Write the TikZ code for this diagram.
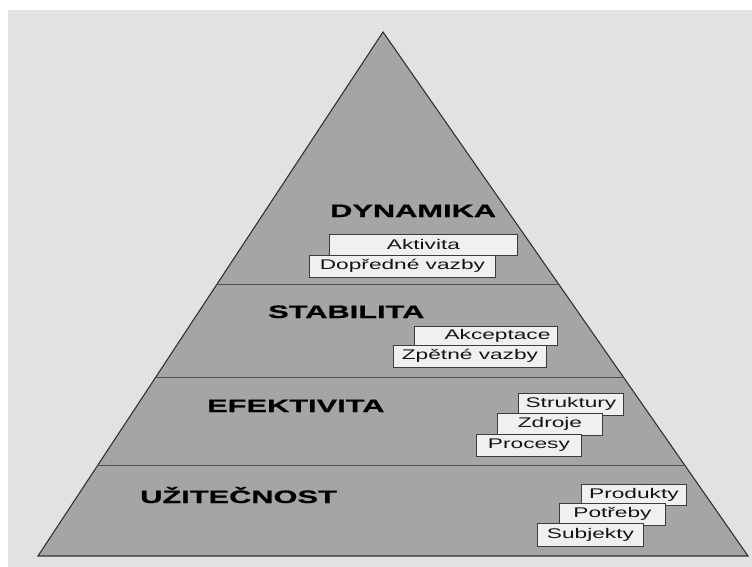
\documentclass[tikz,border=0pt]{standalone}
\usepackage{fontspec}
\usepackage{xcolor}
\usepackage{tikz}
\newfontfamily\layerfont[FakeStretch=1.71, BoldFeatures={FakeBold=0.8}]{Liberation Sans}
\newfontfamily\tagfont[FakeStretch=1.62]{Liberation Sans}
\definecolor{pagegray}{RGB}{226,226,226}
\definecolor{pyrgray}{RGB}{165,165,165}
\definecolor{pyrline}{RGB}{50,50,50}
\definecolor{bandline}{RGB}{80,80,80}
\definecolor{tagfill}{RGB}{240,240,240}
\definecolor{tagline}{RGB}{60,60,60}

\begin{document}
\begin{tikzpicture}[
  x=1pt, y=-1pt,
  layer/.style={font=\layerfont\bfseries\fontsize{18}{20}\selectfont,
                anchor=base west, inner sep=0pt, text=black},
  tag/.style={draw=tagline, fill=tagfill, line width=0.9pt, anchor=north west,
              font=\tagfont\fontsize{14}{16}\selectfont, text=black!92,
              inner sep=0pt, text height=10pt, text depth=3pt,
              minimum width=#1, minimum height=21pt},
]

%% Page and background
\useasboundingbox (0,0) rectangle (752,567);
\fill[white] (0,0) rectangle (752,567);
\fill[pagegray] (8,10) rectangle (752,567);

%% Pyramid
\coordinate (apex) at (383,32);
\coordinate (baseL) at (38,556);
\coordinate (baseR) at (748,556);
\filldraw[fill=pyrgray, draw=pyrline, line width=1.1pt]
  (apex) -- (baseR) -- (baseL) -- cycle;
\begin{scope}
  \clip (apex) -- (baseR) -- (baseL) -- cycle;
  \foreach \y in {284,377,465}
    \draw[bandline, line width=0.9pt] (0,\y) -- (752,\y);
\end{scope}

%% Layer titles
\node[layer] (dynamika)   at (330,217) {DYNAMIKA};
\node[layer] (stabilita)  at (268,318) {STABILITA};
\node[layer] (efektivita) at (207,412) {EFEKTIVITA};
\node[layer] (uzitecnost) at (140,503) {UŽITEČNOST};

%% Tags: dynamika
\node[tag=188pt, text depth=0pt] (aktivita) at (329,234) {Aktivita};
\node[tag=186pt, minimum height=22pt] (dopredne) at (309,255) {Dopředné vazby};

%% Tags: stabilita
\node[tag=143pt, minimum height=19pt, text width=129pt, align=right,
      inner xsep=7pt] (akceptace) at (414,326) {Akceptace};
\node[tag=153pt, minimum height=22pt] (zpetne) at (393,345) {Zpětné vazby};

%% Tags: efektivita
\node[tag=105pt, minimum height=22pt] (struktury) at (518,393) {Struktury};
\node[tag=105pt, minimum height=22pt] (zdroje)    at (497,413) {Zdroje};
\node[tag=105pt, minimum height=22pt] (procesy)   at (476,434) {Procesy};

%% Tags: uzitecnost
\node[tag=105pt] (produkty) at (581,484) {Produkty};
\node[tag=106pt, minimum height=22pt] (potreby)  at (559,503) {Potřeby};
\node[tag=106pt, minimum height=23pt] (subjekty) at (537,523) {Subjekty};

\end{tikzpicture}
\end{document}
